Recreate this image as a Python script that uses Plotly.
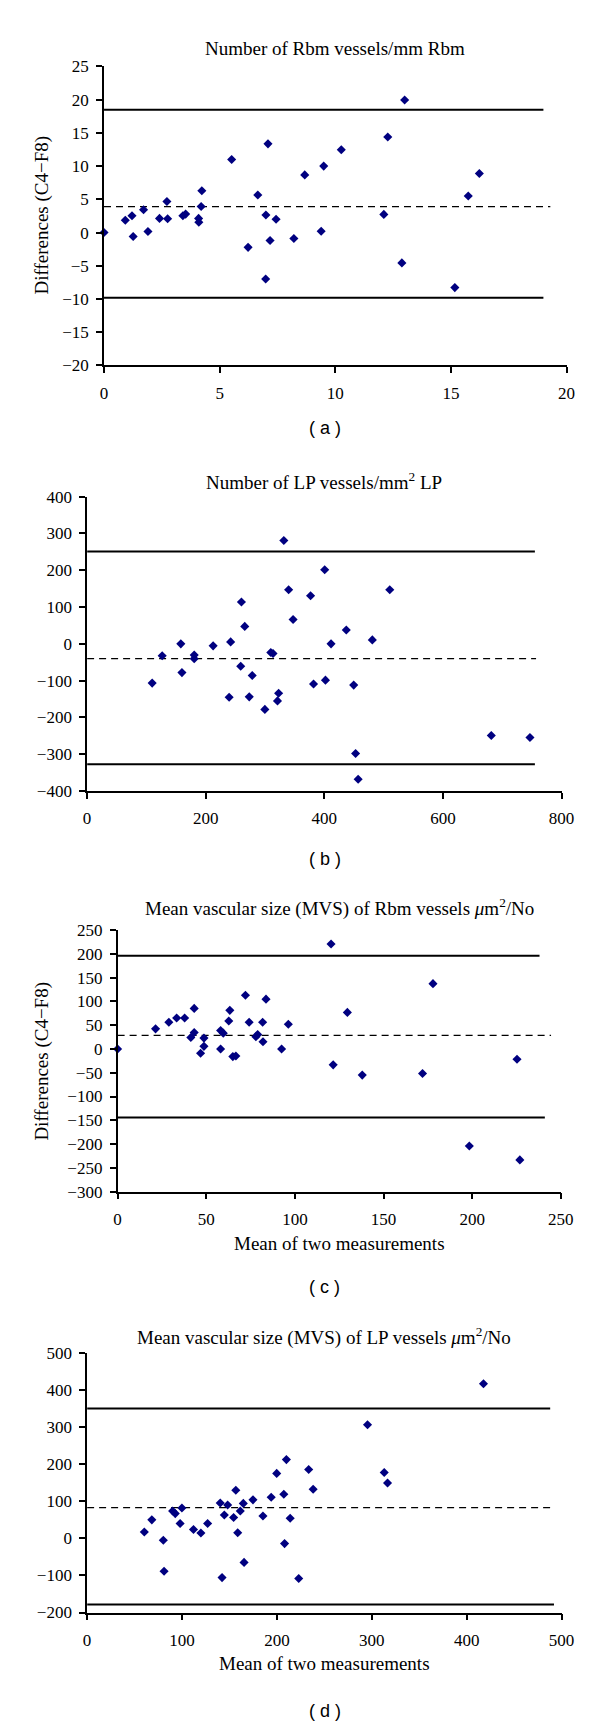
import plotly.graph_objects as go

W, H = 600, 1726

# ---------------- data ----------------
# Panel (a) Number of Rbm vessels/mm Rbm
a_x = [0, 0.92, 1.21, 1.71, 1.9, 2.4, 2.72, 2.75, 3.41, 3.53, 4.09, 4.1, 4.2, 4.23,
       5.52, 6.65, 7.0, 7.09, 7.44, 8.68, 9.39, 9.5, 10.26, 12.1, 12.27, 13.0, 15.75,
       16.23, 1.26, 6.23, 6.99, 7.18, 8.21, 12.88, 15.17]
a_y = [0, 1.84, 2.53, 3.42, 0.15, 2.13, 4.67, 2.08, 2.53, 2.78, 2.13, 1.54, 3.92, 6.3,
       11.0, 5.66, 2.63, 13.35, 1.99, 8.68, 0.2, 10.0, 12.46, 2.73, 14.39, 19.95, 5.5,
       8.88, -0.6, -2.23, -7.0, -1.19, -0.89, -4.57, -8.29]
a_upper, a_lower, a_mean = 18.5, -9.8, 3.9
a_line_end, a_dash_end = 19.0, 19.3

# Panel (b) Number of LP vessels/mm2 LP
b_x = [331.7, 400.6, 339.8, 510.3, 376.8, 260.2, 347.3, 265.8, 437, 480.9, 242, 158,
       212.5, 411.3, 126.6, 180.6, 180.6, 309.7, 313.5, 109.7, 159.9, 259, 278.4, 239.5,
       273.4, 299.7, 321, 322.9, 381.8, 401.9, 449.5, 452.7, 457, 681.5, 746.7]
b_y = [281, 201.6, 147, 147, 130.8, 113.8, 66.3, 47.5, 37.6, 10.8, 5.4, 0, -5.4, 0,
       -32.3, -30.5, -40.3, -23.3, -26, -106.6, -78, -61, -86, -145, -144, -178, -155,
       -134, -109, -98.6, -112, -298, -368, -249, -254.5]
b_upper, b_lower, b_mean = 251, -327, -40
b_line_end, b_dash_end = 755, 757

# Panel (c) MVS of Rbm vessels
c_x = [0, 21.4, 28.9, 33.3, 37.8, 43.2, 41.3, 43.2, 46.8, 48.7, 48.7, 58.1, 59.6, 58.1,
       62.7, 63.3, 65, 66.7, 72.1, 74.2, 78, 79, 81.8, 82, 83.7, 92.5, 96.3, 120.4,
       121.6, 129.6, 138, 172, 177.9, 225.3, 198.4, 226.9]
c_y = [0, 42.4, 56.3, 65.3, 65.3, 85.4, 24.3, 34.7, -9, 22.9, 5.6, 38.9, 33.3, 0,
       59, 81.3, -16, -14.6, 113.2, 56.3, 25.7, 30.6, 56.3, 15.3, 104.9, 0, 52, 220.8,
       -33.3, 77, -54.9, -51.4, 137.5, -21.5, -204, -233.3]
c_upper, c_lower, c_mean = 196, -144, 28.5
c_upper_end, c_lower_end, c_dash_end = 238, 241, 244.5

# Panel (d) MVS of LP vessels
d_x = [417.7, 295.5, 210, 313.1, 199.8, 233.5, 316.6, 156.7, 238.2, 207.3, 194, 174.8,
       60.3, 68.2, 80.3, 81.1, 90.1, 92.9, 98, 99.9, 112.1, 119.9, 127, 140.3, 142.2,
       144.6, 148.1, 154.4, 158.7, 161.4, 164.6, 165.4, 185.3, 208.1, 214, 223]
d_y = [416.5, 306.3, 212.2, 177.6, 175, 185.5, 149.2, 129.5, 132.2, 118.9, 110.9, 103.8,
       16.9, 49.8, -5.3, -88.9, 73.8, 66.7, 40, 81.8, 24, 14.2, 40, 95.1, -105.8,
       63.1, 89.8, 56, 15.1, 73.8, 94.2, -64.9, 60.4, -14.2, 54.2, -108.4]
d_upper, d_lower, d_mean = 350, -178, 83
d_upper_end, d_lower_end, d_dash_end = 488, 492, 488

titles = ["Number of Rbm vessels/mm Rbm",
          "Number of LP vessels/mm<sup>2</sup> LP",
          "Mean vascular size (MVS) of Rbm vessels <i>μ</i>m<sup>2</sup>/No",
          "Mean vascular size (MVS) of LP vessels <i>μ</i>m<sup>2</sup>/No"]
panel_labels = ["( a )", "( b )", "( c )", "( d )"]
y_title = "Differences (C4−F8)"
x_title = "Mean of two measurements"

# ---------------- layout geometry (pixels) ----------------
# (x_left, x_right, y_top, y_bottom)
boxes = [(94.7, 570.7, 50.0, 352.3),
         (77.3, 565.6, 485.0, 782.7),
         (108.7, 564.8, 923.3, 1187.7),
         (77.3, 565.6, 1350.7, 1613.3)]
xranges = [[0, 20], [0, 800], [0, 250], [0, 500]]
yranges = [[-20, 25], [-400, 400], [-300, 250], [-200, 500]]
xdt = [5, 200, 50, 100]
ydt = [5, 100, 50, 100]
title_y = [31.7, 469.3, 900, 1334]
label_y = [416, 851, 1284, 1713]

def px(x):
    return x / W

def py(y):
    return 1 - y / H

SERIF = "Liberation Serif"
SANS = "Liberation Sans"
MARK = "#000080"

fig = go.Figure()

panels = [
    (a_x, a_y, [(a_upper, a_line_end, "solid"), (a_lower, a_line_end, "solid"), (a_mean, a_dash_end, "dash")]),
    (b_x, b_y, [(b_upper, b_line_end, "solid"), (b_lower, b_line_end, "solid"), (b_mean, b_dash_end, "dash")]),
    (c_x, c_y, [(c_upper, c_upper_end, "solid"), (c_lower, c_lower_end, "solid"), (c_mean, c_dash_end, "dash")]),
    (d_x, d_y, [(d_upper, d_upper_end, "solid"), (d_lower, d_lower_end, "solid"), (d_mean, d_dash_end, "dash")]),
]

annotations = []
for i, (xs, ys, lines) in enumerate(panels):
    n = "" if i == 0 else str(i + 1)
    xa, ya = "x" + n, "y" + n
    for val, xend, style in lines:
        fig.add_trace(go.Scatter(
            x=[0, xend], y=[val, val], mode="lines", xaxis=xa, yaxis=ya,
            line=dict(color="black", width=2 if style == "solid" else 1.3,
                      dash="solid" if style == "solid" else "7px,5px"),
            showlegend=False, hoverinfo="skip"))
    fig.add_trace(go.Scatter(
        x=xs, y=ys, mode="markers", xaxis=xa, yaxis=ya, cliponaxis=False,
        marker=dict(symbol="diamond", size=7, color=MARK, line=dict(width=0)),
        showlegend=False))

    x0, x1, y0, y1 = boxes[i]
    axis_common = dict(showline=True, linecolor="black", linewidth=1.6,
                       ticks="outside", ticklen=6, tickwidth=1.6, tickcolor="black",
                       showgrid=False, zeroline=False,
                       tickfont=dict(family=SERIF, size=17, color="black"))
    fig.layout["xaxis" + n] = dict(domain=[px(x0), px(x1)], range=xranges[i],
                                   dtick=xdt[i], tick0=0, anchor=ya,
                                   ticklabelstandoff=5, **axis_common)
    fig.layout["yaxis" + n] = dict(domain=[py(y1), py(y0)], range=yranges[i],
                                   dtick=ydt[i], tick0=0, anchor=xa,
                                   ticklabelstandoff=4, **axis_common)

    annotations.append(dict(text=titles[i], x=px((x0 + x1) / 2), y=py(title_y[i]),
                            xref="paper", yref="paper", showarrow=False,
                            xanchor="center", yanchor="middle",
                            font=dict(family=SERIF, size=19, color="black")))
    annotations.append(dict(text=panel_labels[i], x=px(322), y=py(label_y[i]),
                            xref="paper", yref="paper", showarrow=False,
                            xanchor="center", yanchor="middle",
                            font=dict(family=SANS, size=18, color="black")))

# y-axis titles for panels a and c
for i, cy in [(0, 200.0), (2, 1055.5)]:
    annotations.append(dict(text=y_title, x=px(30.6), y=py(cy), xref="paper", yref="paper",
                            showarrow=False, textangle=-90, xanchor="center", yanchor="middle",
                            font=dict(family=SERIF, size=19, color="black")))
# x-axis titles for panels c and d
for cx, cy in [(336.8, 1240), (321.5, 1665)]:
    annotations.append(dict(text=x_title, x=px(cx), y=py(cy), xref="paper", yref="paper",
                            showarrow=False, xanchor="center", yanchor="middle",
                            font=dict(family=SERIF, size=19, color="black")))

fig.update_layout(width=W, height=H, margin=dict(l=0, r=0, t=0, b=0),
                  paper_bgcolor="white", plot_bgcolor="white",
                  font=dict(family=SERIF, size=17, color="black"),
                  annotations=annotations, showlegend=False)

fig.write_html("out.html")
